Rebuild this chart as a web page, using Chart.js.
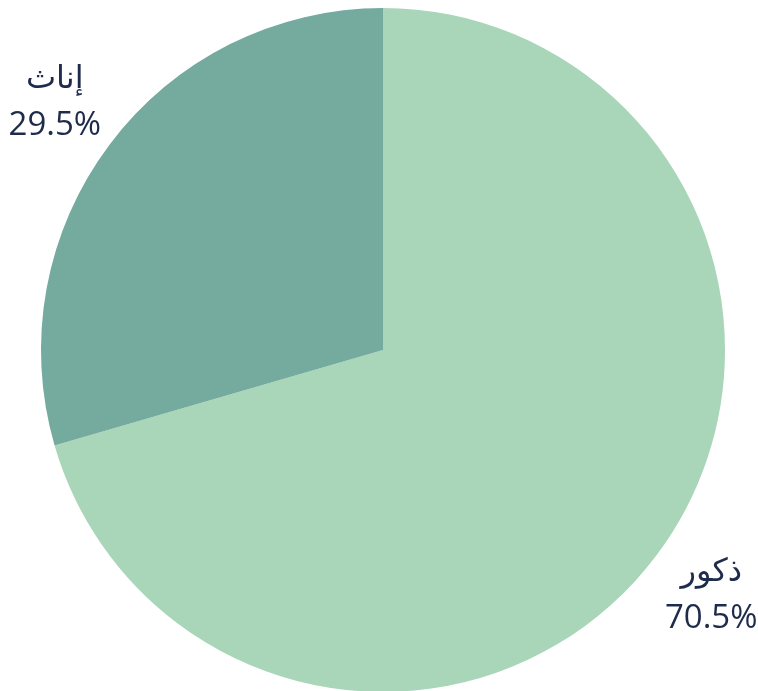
<!DOCTYPE html>
<html>
<head>
<meta charset="utf-8">
<script src="https://cdn.jsdelivr.net/npm/chart.js@4/dist/chart.umd.min.js"></script>
<style>
html,body{margin:0;padding:0;background:#fff;overflow:hidden;}
#wrap{width:758px;height:700px;position:relative;}
</style>
</head>
<body>
<div id="wrap"><canvas id="c"></canvas></div>
<script>
const categories = ['ذكور', 'إناث'];
const values = [70.5, 29.5];
const valueLabels = ['70.5%', '29.5%'];
const colors = ['#a9d5b9', '#74ab9e'];

const labelPlugin = {
  id: 'sliceLabels',
  afterDatasetsDraw(chart) {
    const ctx = chart.ctx;
    const meta = chart.getDatasetMeta(0);
    ctx.save();
    ctx.fillStyle = '#1f2b4b';
    ctx.textAlign = 'center';
    ctx.textBaseline = 'middle';
    meta.data.forEach((arc, i) => {
      const p = arc.getProps(['x','y','startAngle','endAngle','outerRadius'], true);
      const mid = (p.startAngle + p.endAngle) / 2;
      const r = p.outerRadius * 1.2;
      const cx = p.x + Math.cos(mid) * r;
      const cy = p.y + Math.sin(mid) * r;
      ctx.font = '500 32px "DejaVu Sans", "Noto Sans", sans-serif';
      ctx.fillText(categories[i], cx, cy - 24);
      ctx.font = '500 33px "Open Sans", "Noto Sans", sans-serif';
      ctx.fillText(valueLabels[i], cx, cy + 22);
    });
    ctx.restore();
  }
};

new Chart(document.getElementById('c'), {
  type: 'pie',
  data: {
    labels: categories,
    datasets: [{
      data: values,
      backgroundColor: colors,
      borderWidth: 0
    }]
  },
  options: {
    responsive: true,
    maintainAspectRatio: false,
    animation: false,
    layout: { padding: { top: 8, bottom: 8, left: 41, right: 33 } },
    plugins: {
      legend: { display: false },
      tooltip: { enabled: false }
    }
  },
  plugins: [labelPlugin]
});
</script>
</body>
</html>
